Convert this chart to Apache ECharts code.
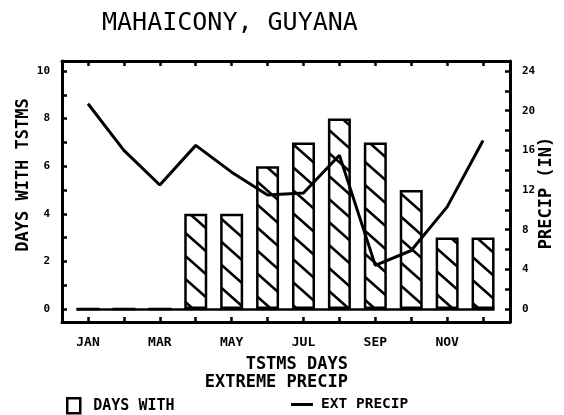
<!DOCTYPE html>
<html>
<head>
<meta charset="utf-8">
<script src="https://cdn.jsdelivr.net/npm/echarts@6/dist/echarts.min.js"></script>
<style>
  html, body { margin: 0; padding: 0; background: #fff; }
  #chart { width: 564px; height: 415px; }
</style>
</head>
<body>
<div id="chart"></div>
<script>
// Monthly thunderstorm days and extreme precipitation, Mahaicony
const months = [1, 2, 3, 4, 5, 6, 7, 8, 9, 10, 11, 12];
const monthNames = ['JAN', 'FEB', 'MAR', 'APR', 'MAY', 'JUN', 'JUL', 'AUG', 'SEP', 'OCT', 'NOV', 'DEC'];
const labelledMonths = [1, 3, 5, 7, 9, 11];
const tstmDays = [0, 0, 0, 4, 4, 6, 7, 8, 7, 5, 3, 3];
const extPrecip = [20.7, 16.0, 12.5, 16.5, 13.8, 11.5, 11.7, 15.5, 4.4, 5.9, 10.3, 17.0];
const dayTicks = [0, 1, 2, 3, 4, 5, 6, 7, 8, 9, 10];
const dayLabels = [0, 2, 4, 6, 8, 10];
const precipTicks = [0, 2, 4, 6, 8, 10, 12, 14, 16, 18, 20, 22, 24];
const precipLabels = [0, 4, 8, 12, 16, 20, 24];

// Diagonal "\" hatch used to fill the bars
function hatchPattern() {
  const w = 26, h = 23;
  const c = document.createElement('canvas');
  c.width = w; c.height = h;
  const g = c.getContext('2d');
  g.fillStyle = '#fff';
  g.fillRect(0, 0, w, h);
  g.strokeStyle = '#000';
  g.lineWidth = 2.6;
  [-h, 0, h].forEach(function (dy) {
    g.beginPath();
    g.moveTo(-w, -h + dy);
    g.lineTo(2 * w, 2 * h + dy);
    g.stroke();
  });
  return c;
}

const ink = '#000';
const mono = 'DejaVu Sans Mono';
const BAR_PX = 23;
const xMin = 0.276, xMax = 12.75;
const dayMin = -0.546, dayMax = 10.42;
const ratio = 2.4; // inches per thunderstorm day on the twin axes

const chart = echarts.init(document.getElementById('chart'));

function monthAxis(pos, showLabels) {
  return {
    type: 'value', position: pos, min: xMin, max: xMax,
    axisLine: { show: true, onZero: false, lineStyle: { color: ink, width: 3 } },
    axisTick: { show: true, inside: true, length: 5, customValues: months,
                lineStyle: { color: ink, width: 2.5 } },
    axisLabel: {
      show: showLabels, customValues: labelledMonths, margin: 14,
      color: ink, fontFamily: mono, fontWeight: 'bold', fontSize: 13,
      formatter: function (v) { return monthNames[Math.round(v) - 1]; }
    },
    splitLine: { show: false }
  };
}

const halfBarMonths = (BAR_PX / 2) / ((448) / (xMax - xMin));

chart.setOption({
  animation: false,
  backgroundColor: '#fff',
  grid: { left: 62, right: 54, top: 61, bottom: 93 },
  title: {
    text: 'MAHAICONY, GUYANA',
    left: 97, top: 6,
    textStyle: { fontFamily: mono, fontWeight: 'normal', fontSize: 25, color: ink }
  },
  legend: [
    {
      data: ['DAYS WITH'], left: 61, top: 392,
      icon: 'rect', itemWidth: 13, itemHeight: 15,
      itemStyle: { color: '#fff', borderColor: ink, borderWidth: 2.5 },
      textStyle: { fontFamily: mono, fontWeight: 'bold', fontSize: 15, color: ink, padding: [0, 0, 0, 8] }
    },
    {
      data: [{ name: 'EXT PRECIP', icon: 'rect' }], left: 286, top: 392,
      itemWidth: 22, itemHeight: 3,
      itemStyle: { color: ink, borderWidth: 0 },
      lineStyle: { width: 0 },
      textStyle: { fontFamily: mono, fontWeight: 'bold', fontSize: 14.5, color: ink, padding: [0, 0, 0, 3] }
    }
  ],
  graphic: [
    {
      type: 'text', x: 24, y: 175, rotation: Math.PI / 2,
      style: { text: 'DAYS WITH TSTMS', fontFamily: mono, fontWeight: 'bold', fontSize: 17,
               fill: ink, align: 'center', verticalAlign: 'middle' }
    },
    {
      type: 'text', x: 547, y: 193, rotation: Math.PI / 2,
      style: { text: 'PRECIP (IN)', fontFamily: mono, fontWeight: 'bold', fontSize: 17,
               fill: ink, align: 'center', verticalAlign: 'middle' }
    },
    {
      type: 'text', x: 348, y: 356,
      style: { text: 'TSTMS DAYS\nEXTREME PRECIP', fontFamily: mono, fontWeight: 'bold', fontSize: 17,
               lineHeight: 18, fill: ink, align: 'right', verticalAlign: 'top' }
    }
  ],
  xAxis: [monthAxis('bottom', true), monthAxis('top', false)],
  yAxis: [
    {
      type: 'value', position: 'left', min: dayMin, max: dayMax,
      axisLine: { show: true, onZero: false, lineStyle: { color: ink, width: 3 } },
      axisTick: { show: true, inside: true, length: 5, customValues: dayTicks,
                  lineStyle: { color: ink, width: 2.5 } },
      axisLabel: { customValues: dayLabels, margin: 12, color: ink,
                   fontFamily: mono, fontWeight: 'bold', fontSize: 11 },
      splitLine: { show: false }
    },
    {
      type: 'value', position: 'right', min: dayMin * ratio, max: dayMax * ratio,
      axisLine: { show: true, onZero: false, lineStyle: { color: ink, width: 3 } },
      axisTick: { show: true, inside: true, length: 5, customValues: precipTicks,
                  lineStyle: { color: ink, width: 2.5 } },
      axisLabel: { customValues: precipLabels, margin: 12, color: ink,
                   fontFamily: mono, fontWeight: 'bold', fontSize: 11 },
      splitLine: { show: false }
    }
  ],
  series: [
    {
      name: 'DAYS WITH', type: 'bar', xAxisIndex: 0, yAxisIndex: 0,
      barWidth: BAR_PX,
      data: months.map(function (m, i) { return [m, tstmDays[i]]; }),
      itemStyle: {
        color: { image: hatchPattern(), repeat: 'repeat' },
        borderColor: ink, borderWidth: 2.5
      },
      markLine: {
        silent: true, symbol: 'none', label: { show: false },
        lineStyle: { color: ink, width: 2.5, type: 'solid' },
        data: [[
          { coord: [months[0] - halfBarMonths, 0] },
          { coord: [months[months.length - 1] + halfBarMonths, 0] }
        ]]
      }
    },
    {
      name: 'EXT PRECIP', type: 'line', xAxisIndex: 0, yAxisIndex: 1,
      symbol: 'none', showSymbol: false,
      data: months.map(function (m, i) { return [m, extPrecip[i]]; }),
      lineStyle: { color: ink, width: 3 },
      itemStyle: { color: ink },
      z: 5
    }
  ]
});
</script>
</body>
</html>
